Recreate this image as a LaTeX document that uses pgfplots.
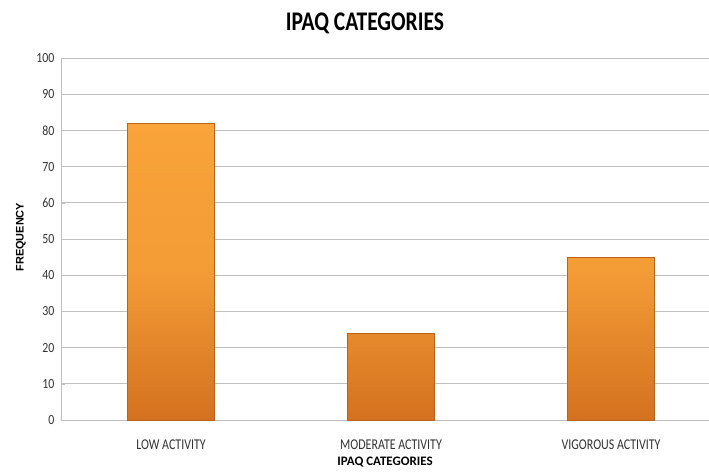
\documentclass[border=0pt]{standalone}
\usepackage{pgfplots}
\pgfplotsset{compat=1.18}
\usepackage{fontspec}
\setmainfont{Carlito}
\newfontfamily\titlefont{Carlito}[FakeStretch=0.8]
\newfontfamily\tickfont{Carlito}[FakeStretch=0.8]
\newfontfamily\ytickfont{Carlito}[FakeStretch=0.85]
\newfontfamily\arialfont{Liberation Sans}
\definecolor{gridgray}{HTML}{BFBFBF}
\definecolor{bartop}{HTML}{F9A33A}
\definecolor{barbot}{HTML}{D4711F}
\definecolor{baredge}{HTML}{B8621C}
\begin{document}
\begin{tikzpicture}[x=1bp,y=1bp]
\path[use as bounding box] (0,0) rectangle (709,472);
\begin{axis}[
  at={(61bp,52bp)}, anchor=south west,
  scale only axis, width=648bp, height=362bp,
  xmin=-0.5, xmax=2.445, ymin=0, ymax=100,
  ytick={0,10,...,100},
  xtick={0,1,2},
  xticklabels={LOW ACTIVITY, MODERATE ACTIVITY, VIGOROUS ACTIVITY},
  axis line style={gridgray},
  axis x line*=bottom, axis y line*=left,
  ymajorgrids, grid style={gridgray, line width=0.8pt},
  major tick length=4bp,
  y tick style={gridgray}, x tick style={draw=none},
  /pgf/number format/assume math mode=true,
  yticklabel style={font=\ytickfont\fontsize{14}{16}\selectfont, text=black!80, anchor=east, xshift=-3bp},
  xticklabel style={font=\tickfont\fontsize{15}{17}\selectfont, text=black!80, anchor=center, yshift=-21bp},
  xlabel={\textbf{IPAQ CATEGORIES}},
  xlabel style={font=\fontsize{13}{15}\selectfont, at={(axis description cs:0.5,-0.116)}, anchor=center},
  ylabel={\arialfont\bfseries FREQUENCY},
  ylabel style={font=\fontsize{11}{13}\selectfont, at={(axis description cs:-0.062,0.505)}, anchor=center},
  title={\titlefont\bfseries IPAQ CATEGORIES},
  title style={font=\fontsize{27}{30}\selectfont, at={(axis description cs:0.469,1.08)}, anchor=center},
  ybar, bar width=0.395,
  clip=false,
]
\addplot[draw=baredge, line width=0.6pt, shading=axis, top color=bartop, bottom color=barbot, middle color=bartop!85!barbot]
  coordinates {(0,82) (1,24) (2,45)};
\end{axis}
\end{tikzpicture}
\end{document}
